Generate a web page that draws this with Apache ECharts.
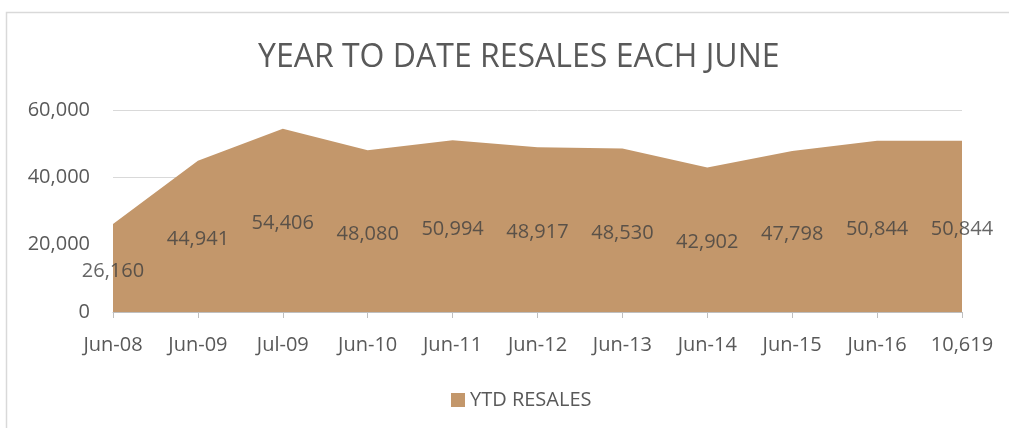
<!DOCTYPE html>
<html>
<head>
<meta charset="utf-8">
<script src="https://cdn.jsdelivr.net/npm/echarts@6/dist/echarts.min.js"></script>
<style>
  html, body { margin: 0; padding: 0; background: #fff; }
  #container { width: 1009px; height: 428px; }
</style>
</head>
<body>
<div id="container"></div>
<script>
'use strict';

let categories = ['Jun-08', 'Jun-09', 'Jul-09', 'Jun-10', 'Jun-11', 'Jun-12',
  'Jun-13', 'Jun-14', 'Jun-15', 'Jun-16', '10,619'];
let resales = [26160, 44941, 54406, 48080, 50994, 48917, 48530, 42902, 47798, 50844, 50844];
let yTicks = [0, 20000, 40000, 60000];

let fontName = '"Open Sans", "Liberation Sans", sans-serif';
let areaColor = '#c3976b';

// Excel puts area labels halfway up the area, so place them on a hidden series
let labelPos = resales.map(v => v / 2);

function fmt(v) {
  return v.toLocaleString('en-US');
}

var dom = document.getElementById('container');
var myChart = echarts.init(dom);

myChart.setOption({
  animation: false,
  title: {
    text: 'YEAR TO DATE RESALES EACH JUNE',
    left: 253,
    top: 37,
    textStyle: {
      fontFamily: fontName,
      fontWeight: 'normal',
      fontSize: 32,
      color: '#595959'
    }
  },
  graphic: [{
    type: 'rect',
    shape: { x: 6.5, y: 12.5, width: 1100, height: 500 },
    style: { fill: 'none', stroke: '#d9d9d9', lineWidth: 1.5 },
    silent: true
  }],
  legend: {
    top: 385,
    left: 446,
    icon: 'rect',
    itemWidth: 14,
    itemHeight: 14,
    itemGap: 6,
    data: ['YTD RESALES'],
    textStyle: {
      fontFamily: fontName,
      fontSize: 20,
      color: '#595959'
    }
  },
  grid: {
    left: 113,
    right: 47,
    top: 110,
    bottom: 116
  },
  xAxis: {
    type: 'category',
    data: categories,
    boundaryGap: false,
    axisLine: { lineStyle: { color: '#bfbfbf' } },
    axisTick: { show: true, length: 6, lineStyle: { color: '#bfbfbf' } },
    axisLabel: {
      fontFamily: fontName,
      fontSize: 20,
      color: '#595959',
      margin: 23
    }
  },
  yAxis: {
    type: 'value',
    min: yTicks[0],
    max: yTicks[yTicks.length - 1],
    interval: 20000,
    axisLine: { show: false },
    axisTick: { show: false },
    splitLine: { lineStyle: { color: '#d9d9d9' } },
    axisLabel: {
      fontFamily: fontName,
      fontSize: 20,
      color: '#595959',
      margin: 23,
      formatter: v => fmt(v)
    }
  },
  series: [{
    name: 'YTD RESALES',
    type: 'line',
    data: resales,
    symbol: 'none',
    lineStyle: { width: 0 },
    itemStyle: { color: areaColor },
    areaStyle: { color: areaColor, opacity: 1 }
  }, {
    name: 'labels',
    type: 'scatter',
    data: labelPos,
    symbolSize: 1,
    itemStyle: { color: 'rgba(0,0,0,0)' },
    silent: true,
    z: 5,
    label: {
      show: true,
      position: 'inside',
      offset: [0, 3],
      fontFamily: fontName,
      fontSize: 20,
      color: '#404040',
      formatter: p => fmt(resales[p.dataIndex])
    }
  }]
}, true);
</script>
</body>
</html>
